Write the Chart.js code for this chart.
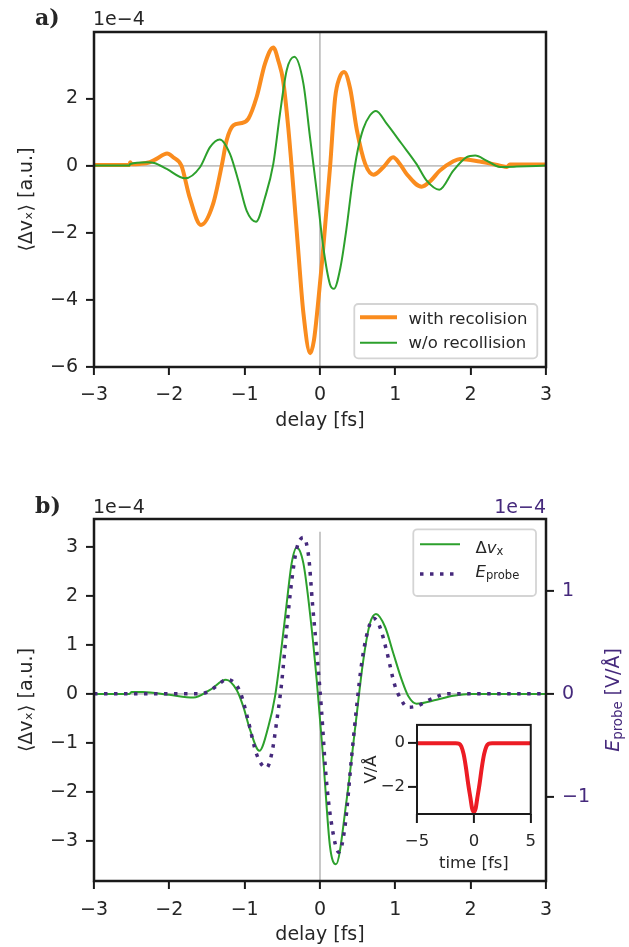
<!DOCTYPE html>
<html>
<head>
<meta charset="utf-8">
<script src="https://cdn.jsdelivr.net/npm/chart.js@4.4.1/dist/chart.umd.min.js"></script>
<style>
  html, body { margin: 0; padding: 0; background: #fff; }
  body { width: 629px; height: 947px; position: relative; overflow: hidden; }
  canvas { position: absolute; }
</style>
</head>
<body>
<canvas id="ca" width="629" height="450" style="left:0;top:0"></canvas>
<canvas id="cb" width="629" height="477" style="left:0;top:470px"></canvas>
<canvas id="ci" width="185" height="170" style="left:360px;top:712px"></canvas>
<script>
// panel a) : with / without recollision (units of 1e-4)
const aDelayRecol = [-3, -2.53, -2.52, -2.5, -2.4, -2.26, -2.17, -2.03, -1.95, -1.84, -1.73, -1.58, -1.42, -1.3, -1.24, -1.15, -1.04, -0.95, -0.84, -0.73, -0.62, -0.55, -0.49, -0.42, -0.36, -0.29, -0.22, -0.13, -0.08, -0.03, 0.03, 0.09, 0.135, 0.2, 0.26, 0.32, 0.4, 0.49, 0.6, 0.71, 0.84, 0.97, 1.06, 1.15, 1.35, 1.47, 1.59, 1.77, 1.86, 2.12, 2.39, 2.48, 2.52, 3];
const aWithRecol = [0.02, 0.02, 0.1, 0.04, 0.05, 0.1, 0.2, 0.36, 0.25, 0, -0.95, -1.77, -1.15, 0.05, 0.75, 1.2, 1.27, 1.4, 2.05, 3.04, 3.52, 3.1, 2.54, 1.1, -0.5, -2.5, -4.4, -5.59, -5.2, -4.2, -2.8, -1.2, 0, 2.0, 2.62, 2.79, 2.3, 1.05, 0.05, -0.27, -0.05, 0.25, 0.05, -0.25, -0.63, -0.45, -0.15, 0.13, 0.2, 0.12, 0, -0.04, 0.03, 0.03];
const aDelayNoRecol = [-3, -2.53, -2.52, -2.3, -2.2, -2.035, -1.79, -1.593, -1.46, -1.33, -1.195, -1.084, -0.973, -0.85, -0.73, -0.62, -0.531, -0.442, -0.341, -0.221, -0.133, -0.044, 0.044, 0.133, 0.186, 0.27, 0.35, 0.43, 0.5, 0.575, 0.664, 0.743, 0.885, 1.084, 1.28, 1.416, 1.584, 1.77, 1.947, 2.06, 2.21, 2.39, 2.61, 3];
const aWithoutRecol = [0, 0, 0.05, 0.1, 0.08, -0.1, -0.38, -0.05, 0.55, 0.78, 0.35, -0.45, -1.35, -1.67, -0.95, 0.05, 1.55, 2.84, 3.24, 2.45, 0.85, -0.75, -2.44, -3.54, -3.67, -3.05, -1.9, -0.5, 0.45, 1.1, 1.5, 1.63, 1.25, 0.65, 0.05, -0.45, -0.72, -0.15, 0.25, 0.3, 0.15, -0.04, -0.03, 0];

// panel b) : delta v_x (1e-4 a.u.) and probe field (1e-4 V/A)
const bDelayDv = [-3, -2.53, -2.5, -2.35, -2.0, -1.68, -1.46, -1.248, -1.106, -1.018, -0.929, -0.805, -0.686, -0.597, -0.509, -0.442, -0.376, -0.31, -0.221, -0.133, -0.044, 0.044, 0.133, 0.212, 0.354, 0.47, 0.575, 0.664, 0.743, 0.863, 0.973, 1.084, 1.173, 1.28, 1.549, 1.77, 1.99, 3];
const bDv = [0, 0, 0.04, 0.04, -0.02, -0.075, 0.08, 0.29, 0.08, -0.26, -0.73, -1.16, -0.67, -0.05, 0.97, 1.85, 2.67, 2.99, 2.67, 1.65, 0.29, -1.35, -3.12, -3.48, -2.16, -0.65, 0.69, 1.44, 1.63, 1.37, 0.83, 0.29, -0.05, -0.2, -0.12, -0.04, 0, 0];
const bDelayE = [-3, -1.6, -1.46, -1.35, -1.24, -1.14, -1.05, -0.96, -0.84, -0.71, -0.64, -0.575, -0.51, -0.44, -0.38, -0.31, -0.22, -0.15, -0.1, -0.03, 0.02, 0.08, 0.15, 0.25, 0.33, 0.42, 0.49, 0.55, 0.62, 0.71, 0.79, 0.89, 0.99, 1.08, 1.16, 1.28, 1.48, 1.7, 3];
const bEprobe = [0, 0, 0.03, 0.09, 0.14, 0.11, 0, -0.24, -0.59, -0.72, -0.58, -0.27, 0.1, 0.65, 1.07, 1.41, 1.52, 1.33, 0.88, 0.3, -0.16, -0.8, -1.25, -1.54, -1.3, -0.61, -0.1, 0.28, 0.57, 0.735, 0.66, 0.4, 0.09, -0.06, -0.13, -0.12, -0.05, 0, 0];
const bZeroX = [0, 0];
const bZeroY = [-3.82, 3.31];

// inset : probe pulse (V/A)
const insetTime = [-5, -1.6, -1.3, -1.1, -0.9, -0.7, -0.5, -0.3, -0.15, 0, 0.15, 0.3, 0.5, 0.7, 0.9, 1.1, 1.3, 1.6, 5];
const insetField = [0, 0, -0.03, -0.15, -0.5, -1.1, -1.85, -2.5, -2.98, -3.12, -2.98, -2.5, -1.85, -1.1, -0.5, -0.15, -0.03, 0, 0];

// ticks
const delayTicks = [-3, -2, -1, 0, 1, 2, 3];
const aYTicks = [-6, -4, -2, 0, 2];
const bYTicks = [-3, -2, -1, 0, 1, 2, 3];
const bY2Ticks = [-1, 0, 1];
const insetXTicks = [-5, 0, 5];
const insetYTicks = [-2, 0];

const ORANGE = '#fa8c1e', GREEN = '#2ca02c', PURPLE = '#45297c', RED = '#ec1c24';
const INK = '#262626', SPINE = '#1a1a1a', ZERO = '#c2c2c2';
const FAMILY = "'DejaVu Sans', sans-serif";

Chart.defaults.font.family = FAMILY;
Chart.defaults.font.size = 19;
Chart.defaults.color = INK;

function pts(xs, ys) { return xs.map((x, i) => ({ x: x, y: ys[i] })); }
const minus = v => String(v).replace('-', '\u2212');

function scale(o) {
  const horiz = o.position === 'bottom';
  return {
    type: 'linear',
    position: o.position,
    min: o.min,
    max: o.max,
    afterBuildTicks: s => { s.ticks = o.ticks.map(v => ({ value: v })); },
    afterFit: s => { if (horiz) s.height = o.size; else s.width = o.size; },
    border: { display: false },
    grid: {
      drawOnChartArea: !!o.zero,
      color: c => (c.tick && c.tick.value === 0 ? ZERO : 'rgba(0,0,0,0)'),
      lineWidth: 1.8,
      drawTicks: true,
      tickLength: o.tickLen || 8,
      tickWidth: 2,
      tickColor: SPINE
    },
    ticks: {
      color: o.color || INK,
      font: { size: o.font || 19 },
      padding: o.pad,
      maxRotation: 0,
      autoSkip: false,
      callback: v => minus(v)
    },
    title: o.title
      ? { display: true, text: o.title, color: INK, font: { size: o.font || 19 }, padding: o.titlePad }
      : { display: false }
  };
}

function frame(lw) {
  return {
    id: 'frame',
    afterDatasetsDraw(chart) {
      const { ctx, chartArea: a } = chart;
      ctx.save();
      ctx.strokeStyle = SPINE;
      ctx.lineWidth = lw;
      ctx.strokeRect(a.left, a.top, a.right - a.left, a.bottom - a.top);
      ctx.restore();
    }
  };
}

function legendFrame(ctx, x, y, w, h) {
  const r = 4;
  ctx.save();
  ctx.beginPath();
  ctx.moveTo(x + r, y);
  ctx.arcTo(x + w, y, x + w, y + h, r);
  ctx.arcTo(x + w, y + h, x, y + h, r);
  ctx.arcTo(x, y + h, x, y, r);
  ctx.arcTo(x, y, x + w, y, r);
  ctx.closePath();
  ctx.fillStyle = 'rgba(255,255,255,0.8)';
  ctx.fill();
  ctx.strokeStyle = '#d4d4d4';
  ctx.lineWidth = 1.8;
  ctx.stroke();
  ctx.restore();
}

function sample(ctx, x0, x1, y, ds) {
  ctx.save();
  ctx.strokeStyle = ds.borderColor;
  ctx.lineWidth = ds.borderWidth;
  ctx.setLineDash(ds.borderDash || []);
  ctx.beginPath();
  ctx.moveTo(x0, y);
  ctx.lineTo(x1, y);
  ctx.stroke();
  ctx.restore();
}

// parts: [{t, it, sub}]
function rich(ctx, parts, x, y, size, color, align) {
  const fontOf = p => (p.it ? 'italic ' : '') + (p.sub ? size * 0.7 : size) + 'px ' + FAMILY;
  let w = 0;
  parts.forEach(p => { ctx.font = fontOf(p); w += ctx.measureText(p.t).width; });
  let cx = align === 'center' ? x - w / 2 : (align === 'right' ? x - w : x);
  ctx.fillStyle = color;
  ctx.textAlign = 'left';
  ctx.textBaseline = 'alphabetic';
  parts.forEach(p => {
    ctx.font = fontOf(p);
    ctx.fillText(p.t, cx, y + (p.sub ? size * 0.15 : 0));
    cx += ctx.measureText(p.t).width;
  });
}

const annotA = {
  id: 'annotA',
  afterDraw(chart) {
    const ctx = chart.ctx, ds = chart.data.datasets;
    ctx.save();
    ctx.fillStyle = INK;
    ctx.textAlign = 'left';
    ctx.textBaseline = 'alphabetic';
    ctx.font = "bold 22px 'DejaVu Serif'";
    ctx.fillText('a)', 35, 25);
    ctx.font = '19px ' + FAMILY;
    ctx.fillText('1e\u22124', 93, 25);
    legendFrame(ctx, 354.3, 304, 183, 54.3);
    sample(ctx, 360, 397, 317.3, ds[0]);
    sample(ctx, 360, 397, 342.7, ds[1]);
    ctx.fillStyle = INK;
    ctx.font = '16.5px ' + FAMILY;
    ctx.fillText(ds[0].label, 408.6, 324);
    ctx.fillText(ds[1].label, 408.6, 348.3);
    ctx.restore();
  }
};

const annotB = {
  id: 'annotB',
  afterDraw(chart) {
    const ctx = chart.ctx, ds = chart.data.datasets;
    ctx.save();
    ctx.fillStyle = INK;
    ctx.textAlign = 'left';
    ctx.textBaseline = 'alphabetic';
    ctx.font = "bold 22px 'DejaVu Serif'";
    ctx.fillText('b)', 35, 42.7);
    ctx.font = '19px ' + FAMILY;
    ctx.fillText('1e\u22124', 93, 42.7);
    ctx.fillStyle = PURPLE;
    ctx.textAlign = 'right';
    ctx.fillText('1e\u22124', 546, 42.7);
    legendFrame(ctx, 413.3, 59.3, 122.7, 66.7);
    sample(ctx, 420, 460, 74.3, ds[0]);
    sample(ctx, 420, 460, 104, ds[1]);
    rich(ctx, [{ t: '\u0394' }, { t: 'v', it: true }, { t: 'x', sub: true }], 475.5, 82.5, 16.5, INK, 'left');
    rich(ctx, [{ t: 'E', it: true }, { t: 'probe', sub: true }], 475.5, 106.7, 16.5, INK, 'left');
    ctx.translate(619, 230);
    ctx.rotate(-Math.PI / 2);
    rich(ctx, [{ t: 'E', it: true }, { t: 'probe', sub: true }, { t: ' [V/\u00c5]' }], 0, 0, 19, PURPLE, 'center');
    ctx.restore();
  }
};

const insetBg = {
  id: 'insetBg',
  beforeDraw(chart) {
    const { ctx, chartArea: a } = chart;
    ctx.save();
    ctx.fillStyle = '#fff';
    ctx.fillRect(a.left, a.top, a.right - a.left, a.bottom - a.top);
    ctx.restore();
  }
};

const common = {
  responsive: false,
  animation: false,
  events: [],
  elements: {
    point: { radius: 0 },
    line: { cubicInterpolationMode: 'monotone', borderJoinStyle: 'round' }
  },
  plugins: { legend: { display: false }, tooltip: { enabled: false } }
};

new Chart(document.getElementById('ca'), {
  type: 'line',
  data: {
    datasets: [
      { label: 'with recolision', data: pts(aDelayRecol, aWithRecol), borderColor: ORANGE, borderWidth: 4, order: 2 },
      { label: 'w/o recollision', data: pts(aDelayNoRecol, aWithoutRecol), borderColor: GREEN, borderWidth: 2, order: 1 }
    ]
  },
  options: Object.assign({}, common, {
    layout: { padding: { left: 0, top: 32, right: 83, bottom: 0 } },
    scales: {
      x: scale({ position: 'bottom', min: -3, max: 3, ticks: delayTicks, size: 83, pad: 8.5, zero: true,
        title: 'delay [fs]', titlePad: { top: 0, bottom: 17.6 } }),
      y: scale({ position: 'left', min: -6, max: 3.98, ticks: aYTicks, size: 94, pad: 8, zero: true,
        title: '\u27e8\u0394v\u2093\u27e9 [a.u.]', titlePad: { top: 15.6, bottom: 0 } })
    }
  }),
  plugins: [frame(2.5), annotA]
});

new Chart(document.getElementById('cb'), {
  type: 'line',
  data: {
    datasets: [
      { label: '\u0394v_x', data: pts(bDelayDv, bDv), borderColor: GREEN, borderWidth: 2, yAxisID: 'y', order: 2 },
      { label: 'E_probe', data: pts(bDelayE, bEprobe), borderColor: PURPLE, borderWidth: 3.5, borderDash: [3.5, 6.5],
        borderCapStyle: 'butt', yAxisID: 'y2', order: 1 },
      { label: 'zero', data: pts(bZeroX, bZeroY), borderColor: ZERO, borderWidth: 1.8, yAxisID: 'y', order: 5,
        cubicInterpolationMode: 'default', tension: 0 }
    ]
  },
  options: Object.assign({}, common, {
    layout: { padding: { left: 0, top: 49, right: 0, bottom: 0 } },
    scales: {
      x: scale({ position: 'bottom', min: -3, max: 3, ticks: delayTicks, size: 66, pad: 9.5, zero: false,
        title: 'delay [fs]', titlePad: { top: 0, bottom: 0.6 } }),
      y: scale({ position: 'left', min: -3.82, max: 3.57, ticks: bYTicks, size: 94, pad: 8, zero: true,
        title: '\u27e8\u0394v\u2093\u27e9 [a.u.]', titlePad: { top: 15.6, bottom: 0 } }),
      y2: scale({ position: 'right', min: -1.82, max: 1.70, ticks: bY2Ticks, size: 83, pad: 8, zero: false,
        color: PURPLE })
    }
  }),
  plugins: [frame(2.5), annotB]
});

new Chart(document.getElementById('ci'), {
  type: 'line',
  data: {
    datasets: [
      { label: 'probe', data: pts(insetTime, insetField), borderColor: RED, borderWidth: 4 }
    ]
  },
  options: Object.assign({}, common, {
    layout: { padding: { left: 0, top: 9, right: 11, bottom: 0 } },
    scales: {
      x: scale({ position: 'bottom', min: -5, max: 5, ticks: insetXTicks, size: 68, pad: 9, tickLen: 9, font: 16.5,
        zero: false, title: 'time [fs]', titlePad: { top: 0, bottom: 8.7 } }),
      y: scale({ position: 'left', min: -3.22, max: 0.83, ticks: insetYTicks, size: 57, pad: 3, tickLen: 9, font: 16.5,
        zero: false, title: 'V/\u00c5', titlePad: { top: 2.1, bottom: 0 } })
    }
  }),
  plugins: [insetBg, frame(2)]
});
</script>
</body>
</html>
